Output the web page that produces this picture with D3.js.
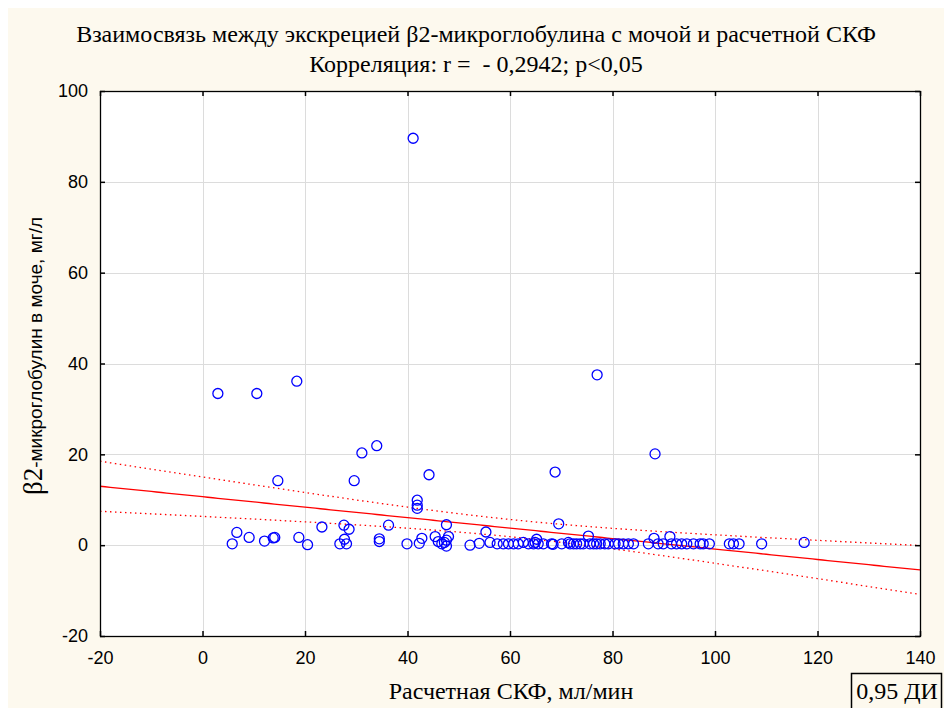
<!DOCTYPE html>
<html>
<head>
<meta charset="utf-8">
<script src="https://cdn.jsdelivr.net/npm/d3@7/dist/d3.min.js"></script>
<style>
  html, body { margin: 0; padding: 0; background: #ffffff; }
  svg { display: block; }
  text { white-space: pre; }
</style>
</head>
<body>
<script>
// Observations: estimated GFR (ml/min) and urinary beta2-microglobulin (mg/l)
const gfr = [
  41.1, 3.0, 10.6, 18.4, 77.0, 34.0, 31.1, 88.3, 68.8, 44.2, 14.7, 29.6, 41.9, 41.9, 41.9,
  69.5, 47.6, 36.3, 23.3, 27.6, 28.6, 55.3, 6.7,
  5.8, 9.1, 12.1, 13.8, 14.1, 18.8, 20.5, 26.8, 27.7, 28.1, 34.5, 34.5, 39.9, 42.3, 42.8,
  45.4, 46.0, 46.7, 47.6, 48.0, 47.6, 47.2,
  52.2, 54.0, 56.1, 57.5, 58.7, 59.7, 60.7, 61.6, 62.6, 63.6, 64.6, 64.9, 65.2, 65.5, 66.5,
  68.1, 68.4, 70.1, 71.4, 71.7, 72.4, 73.0, 73.7, 74.3, 75.3, 75.6, 76.3, 76.9, 77.6, 78.5,
  79.2, 80.5, 81.2, 82.1, 83.1, 84.1, 87.0, 88.1, 88.9, 89.9, 91.2, 91.5, 92.5, 93.5, 94.5,
  95.8, 97.1, 97.7, 98.9, 102.8, 103.6, 104.7, 109.1, 117.4
];
const b2m = [
  89.6, 33.4, 33.4, 36.1, 37.5, 21.9, 20.3, 20.1, 16.1, 15.5, 14.2, 14.2, 9.9, 8.8, 8.1,
  4.7, 4.5, 4.4, 4.0, 4.4, 3.5, 2.9, 2.8,
  0.3, 1.7, 0.9, 1.6, 1.7, 1.7, 0.1, 0.3, 1.3, 0.3, 1.4, 0.8, 0.3, 0.4, 1.5,
  1.9, 0.8, 0.3, 1.1, 1.9, -0.2, 0.6,
  0.0, 0.4, 0.6, 0.3, 0.3, 0.3, 0.3, 0.3, 0.6, 0.3, 0.3, 0.6, 1.3, 0.3, 0.3,
  0.3, 0.2, 0.3, 0.6, 0.3, 0.3, 0.3, 0.3, 0.3, 2.0, 0.3, 0.3, 0.3, 0.3, 0.3,
  0.3, 0.3, 0.3, 0.3, 0.3, 0.3, 0.3, 1.5, 0.3, 0.3, 1.9, 0.3, 0.3, 0.3, 0.3,
  0.3, 0.3, 0.3, 0.3, 0.3, 0.3, 0.3, 0.3, 0.6
];

// Linear fit and its 0.95 confidence band
const fitIntercept = 10.67;
const fitSlope = -0.1152;
const bandCenterX = 61;        // mean of x, where the band is narrowest
const bandVarAtCenter = 3.6;   // squared half-width at the mean
const bandVarGrowth = 0.00408; // growth of squared half-width per (x - mean)^2

const xTicks = [-20, 0, 20, 40, 60, 80, 100, 120, 140];
const yTicks = [-20, 0, 20, 40, 60, 80, 100];

const titleLines = [
  "Взаимосвязь между экскрецией β2-микроглобулина с мочой и расчетной СКФ",
  "Корреляция: r =  - 0,2942; p<0,05"
];
const xTitle = "Расчетная СКФ, мл/мин";
const yTitleGreek = "β2";
const yTitleRest = "-микроглобулин в моче, мг/л";
const legendText = "0,95 ДИ";

const W = 944, H = 708;
const plot = { left: 100, top: 91, right: 920, bottom: 636 };

const svg = d3.select("body").append("svg").attr("width", W).attr("height", H);

// page background
svg.append("rect").attr("x", 8).attr("y", 8).attr("width", W - 8).attr("height", H - 8)
  .attr("fill", "#fdf9ee");

const x = d3.scaleLinear().domain([-20, 140]).range([plot.left, plot.right]);
const y = d3.scaleLinear().domain([-20, 100]).range([plot.bottom, plot.top]);

svg.append("rect")
  .attr("x", plot.left).attr("y", plot.top)
  .attr("width", plot.right - plot.left).attr("height", plot.bottom - plot.top)
  .attr("fill", "#ffffff");

// grid
const grid = svg.append("g").attr("stroke", "#dcdcdc").attr("stroke-width", 1);
grid.selectAll("line.v").data(xTicks.slice(1, -1)).join("line")
  .attr("x1", d => Math.round(x(d)) + 0.5).attr("x2", d => Math.round(x(d)) + 0.5)
  .attr("y1", plot.top).attr("y2", plot.bottom);
grid.selectAll("line.h").data(yTicks.slice(1, -1)).join("line")
  .attr("y1", d => Math.round(y(d)) + 0.5).attr("y2", d => Math.round(y(d)) + 0.5)
  .attr("x1", plot.left).attr("x2", plot.right);

// clip for fit lines
svg.append("clipPath").attr("id", "plotClip").append("rect")
  .attr("x", plot.left).attr("y", plot.top)
  .attr("width", plot.right - plot.left).attr("height", plot.bottom - plot.top);

const xs = d3.range(-20, 140.01, 1);
const fit = v => fitIntercept + fitSlope * v;
const half = v => Math.sqrt(bandVarAtCenter + bandVarGrowth * (v - bandCenterX) ** 2);

const fitG = svg.append("g").attr("clip-path", "url(#plotClip)").attr("fill", "none");
fitG.append("path")
  .attr("d", d3.line().x(v => x(v)).y(v => y(fit(v)))(xs))
  .attr("stroke", "#ff0000").attr("stroke-width", 1.3);
[1, -1].forEach(sgn => {
  fitG.append("path")
    .attr("d", d3.line().x(v => x(v)).y(v => y(fit(v) + sgn * half(v)))(xs))
    .attr("stroke", "#ff0000").attr("stroke-width", 1.3)
    .attr("stroke-dasharray", "1.5,3.5");
});

// points
svg.append("g").selectAll("circle").data(gfr.map((g, i) => [g, b2m[i]])).join("circle")
  .attr("cx", d => x(d[0])).attr("cy", d => y(d[1])).attr("r", 5)
  .attr("fill", "none").attr("stroke", "#0000ff").attr("stroke-width", 1.3);

// frame
svg.append("rect")
  .attr("x", plot.left + 0.5).attr("y", plot.top + 0.5)
  .attr("width", plot.right - plot.left).attr("height", plot.bottom - plot.top)
  .attr("fill", "none").attr("stroke", "#000").attr("stroke-width", 1.3);

// axes with inward ticks; plain hyphen for negatives
const fmt = d => String(d);
const tickFont = "'Liberation Sans', Arial, sans-serif";
const axL = svg.append("g").attr("transform", `translate(${plot.left},0)`)
  .call(d3.axisLeft(y).tickValues(yTicks).tickFormat(fmt).tickSizeInner(-5).tickSizeOuter(0).tickPadding(12));
const axR = svg.append("g").attr("transform", `translate(${plot.right},0)`)
  .call(d3.axisRight(y).tickValues(yTicks).tickSizeInner(-5).tickSizeOuter(0).tickFormat(""));
const axB = svg.append("g").attr("transform", `translate(0,${plot.bottom})`)
  .call(d3.axisBottom(x).tickValues(xTicks).tickFormat(fmt).tickSizeInner(-5).tickSizeOuter(0).tickPadding(15));
const axT = svg.append("g").attr("transform", `translate(0,${plot.top})`)
  .call(d3.axisTop(x).tickValues(xTicks).tickSizeInner(-5).tickSizeOuter(0).tickFormat(""));
[axL, axR, axB, axT].forEach(a => {
  a.select(".domain").remove();
  a.selectAll(".tick line").attr("stroke", "#000").attr("stroke-width", 1.5);
  a.selectAll("text").attr("font-family", tickFont).attr("font-size", 18).attr("fill", "#000");
});

// titles
const serif = "'Liberation Serif', 'Times New Roman', serif";
svg.append("g").selectAll("text").data(titleLines).join("text")
  .attr("x", 476).attr("y", (d, i) => 42 + i * 30)
  .attr("text-anchor", "middle").attr("font-family", serif).attr("font-size", 24)
  .text(d => d);

svg.append("text").attr("x", 511).attr("y", 699).attr("text-anchor", "middle")
  .attr("font-family", serif).attr("font-size", 24).text(xTitle);

const yt = svg.append("text").attr("transform", "translate(42,356) rotate(-90)")
  .attr("text-anchor", "middle");
yt.append("tspan").attr("font-family", serif).attr("font-size", 27).text(yTitleGreek);
yt.append("tspan").attr("font-family", tickFont).attr("font-size", 19).text(yTitleRest);

// legend box
svg.append("rect").attr("x", 851.5).attr("y", 673.5).attr("width", 90).attr("height", 40)
  .attr("fill", "none").attr("stroke", "#000").attr("stroke-width", 1.5);
svg.append("text").attr("x", 897).attr("y", 699).attr("text-anchor", "middle")
  .attr("font-family", serif).attr("font-size", 24).text(legendText);
</script>
</body>
</html>
